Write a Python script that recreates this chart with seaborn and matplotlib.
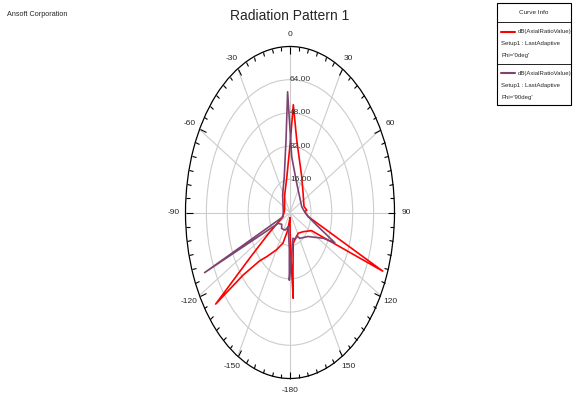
import numpy as np
import pandas as pd
import matplotlib
matplotlib.use("Agg")
import matplotlib.pyplot as plt
from matplotlib.patches import Rectangle
from matplotlib.lines import Line2D
from matplotlib.ticker import FixedLocator
from matplotlib import font_manager
import seaborn as sns

# dB(AxialRatioValue), Phi='0deg'  (theta in deg, clockwise from top)
phi0_theta = [-180, -172, -167, -160, -150, -140, -135, -130, -127.8, -125.5,
              -122, -118, -114, -100, -80, -60, -45, -26, -8, 0, 2.8, 8.4,
              27.6, 50, 75, 85, 88, 98, 111.7, 118, 133, 148, 165, 170.4,
              175.3, 176.6, 178.5, 179.5]
phi0_db = [2.5, 5, 9.5, 15.7, 20.8, 27.8, 33, 47, 72, 38,
           20, 11, 7, 5, 4.3, 4.8, 5.8, 9.3, 17.3, 32.5, 52, 35.3,
           19.4, 13.2, 11.1, 12.9, 11.3, 14, 76.4, 18.6, 13.6, 11.8, 13.8, 15,
           27.8, 41.4, 20, 8]

# dB(AxialRatioValue), Phi='90deg'
phi90_theta = [-179.1, -178.4, -169, -156, -148, -140, -132, -125, -120, -113.9,
               -111, -95, -77, -34, -14.3, -5, -1.8, 2.8, 20, 45, 72.7, 86,
               98, 106.5, 113, 116, 130, 149, 153, 157, 163, 169.5]
phi90_db = [32.5, 18, 7, 9.3, 9.6, 10, 8.5, 9.5, 10.4, 71.5,
            5.6, 5.2, 5.3, 10.1, 17.8, 35, 58.2, 26.9, 15, 10.5, 9.4, 10.8,
            14, 21, 37.3, 28.3, 18, 14.5, 13.2, 12.7, 13.5, 12.6]

ring_values = [16, 32, 48, 64]
ring_labels = ["16.00", "32.00", "48.00", "64.00"]
angle_ticks = [0, 30, 60, 90, 120, 150, 180, 210, 240, 270, 300, 330]
angle_labels = ["0", "30", "60", "90", "120", "150", "-180", "-150", "-120",
                "-90", "-60", "-30"]
r_max = 80

RED = "#ff0000"
PURPLE = "#7e4470"
W, H = 573, 394


def fx(x):
    return x / W


def fy(y):
    return 1 - y / H


def closed(theta, vals):
    df = pd.DataFrame({"theta": np.deg2rad(theta + theta[:1]), "db": vals + vals[:1]})
    return df


sns.set_style("white")
names = {f.name for f in font_manager.fontManager.ttflist}
if 'Liberation Sans Narrow' in names:
    plt.rcParams['font.family'] = ['Liberation Sans Narrow', 'DejaVu Sans']
    small = 5.5
else:
    plt.rcParams['font.family'] = ['Liberation Sans', 'DejaVu Sans']
    small = 4.3

fig = plt.figure(figsize=(W / 100, H / 100), dpi=100)
ax = fig.add_axes([fx(185.5), fy(378.5), 209 / W, 332 / H], projection='polar')
ax.set_aspect('auto')
ax.set_theta_zero_location('N')
ax.set_theta_direction(-1)

sns.lineplot(data=closed(phi0_theta, phi0_db), x="theta", y="db", sort=False,
             estimator=None, color=RED, lw=1.2, ax=ax)
sns.lineplot(data=closed(phi90_theta, phi90_db), x="theta", y="db", sort=False,
             estimator=None, color=PURPLE, lw=1.2, ax=ax)

ax.set_ylim(0, r_max)
ax.set_xlabel("")
ax.set_ylabel("")
ax.set_yticks(ring_values)
ax.set_yticklabels([])
for r, lab in zip(ring_values, ring_labels):
    ax.text(0, r, lab, ha='left', va='center', fontsize=6, color='#333333')

ax.set_xticks(np.deg2rad(angle_ticks))
ax.set_xticklabels(angle_labels, fontsize=6)
ax.xaxis.set_minor_locator(FixedLocator(np.deg2rad(np.arange(0, 360, 5))))
ax.tick_params(axis='x', which='both', bottom=False, top=True, direction='in',
               color='black')
ax.tick_params(axis='x', which='major', length=5, width=0.8, pad=1.5)
ax.tick_params(axis='x', which='minor', length=3, width=0.8)
ax.grid(True, color='#cccccc', lw=0.8)
ax.spines['polar'].set_color('black')
ax.spines['polar'].set_linewidth(0.9)

fig.text(fx(290), fy(16), "Radiation Pattern 1", ha='center', va='center', fontsize=10)
fig.text(fx(7), fy(14), "Ansoft Corporation", ha='left', va='center', fontsize=small + 0.9)

# curve info box
fig.add_artist(Rectangle((fx(497), fy(105)), 74 / W, 102 / H, transform=fig.transFigure,
                         fill=False, ec='black', lw=0.8))
for ysep in [22, 64]:
    fig.add_artist(Line2D([fx(497), fx(571)], [fy(ysep), fy(ysep)],
                          transform=fig.transFigure, color='black', lw=0.6))
fig.text(fx(534), fy(13), "Curve Info", ha='center', va='center', fontsize=small + 0.3)
entries = [(RED, "Phi='0deg'", 32), (PURPLE, "Phi='90deg'", 73)]
for col, phi, y0 in entries:
    fig.add_artist(Line2D([fx(501), fx(515)], [fy(y0), fy(y0)],
                          transform=fig.transFigure, color=col, lw=1.5))
    fig.text(fx(518), fy(y0), "dB(AxialRatioValue)", ha='left', va='center', fontsize=small)
    fig.text(fx(501), fy(y0 + 12), "Setup1 : LastAdaptive", ha='left', va='center', fontsize=small)
    fig.text(fx(501), fy(y0 + 24), phi, ha='left', va='center', fontsize=small)

fig.savefig("out.png", dpi=100)
